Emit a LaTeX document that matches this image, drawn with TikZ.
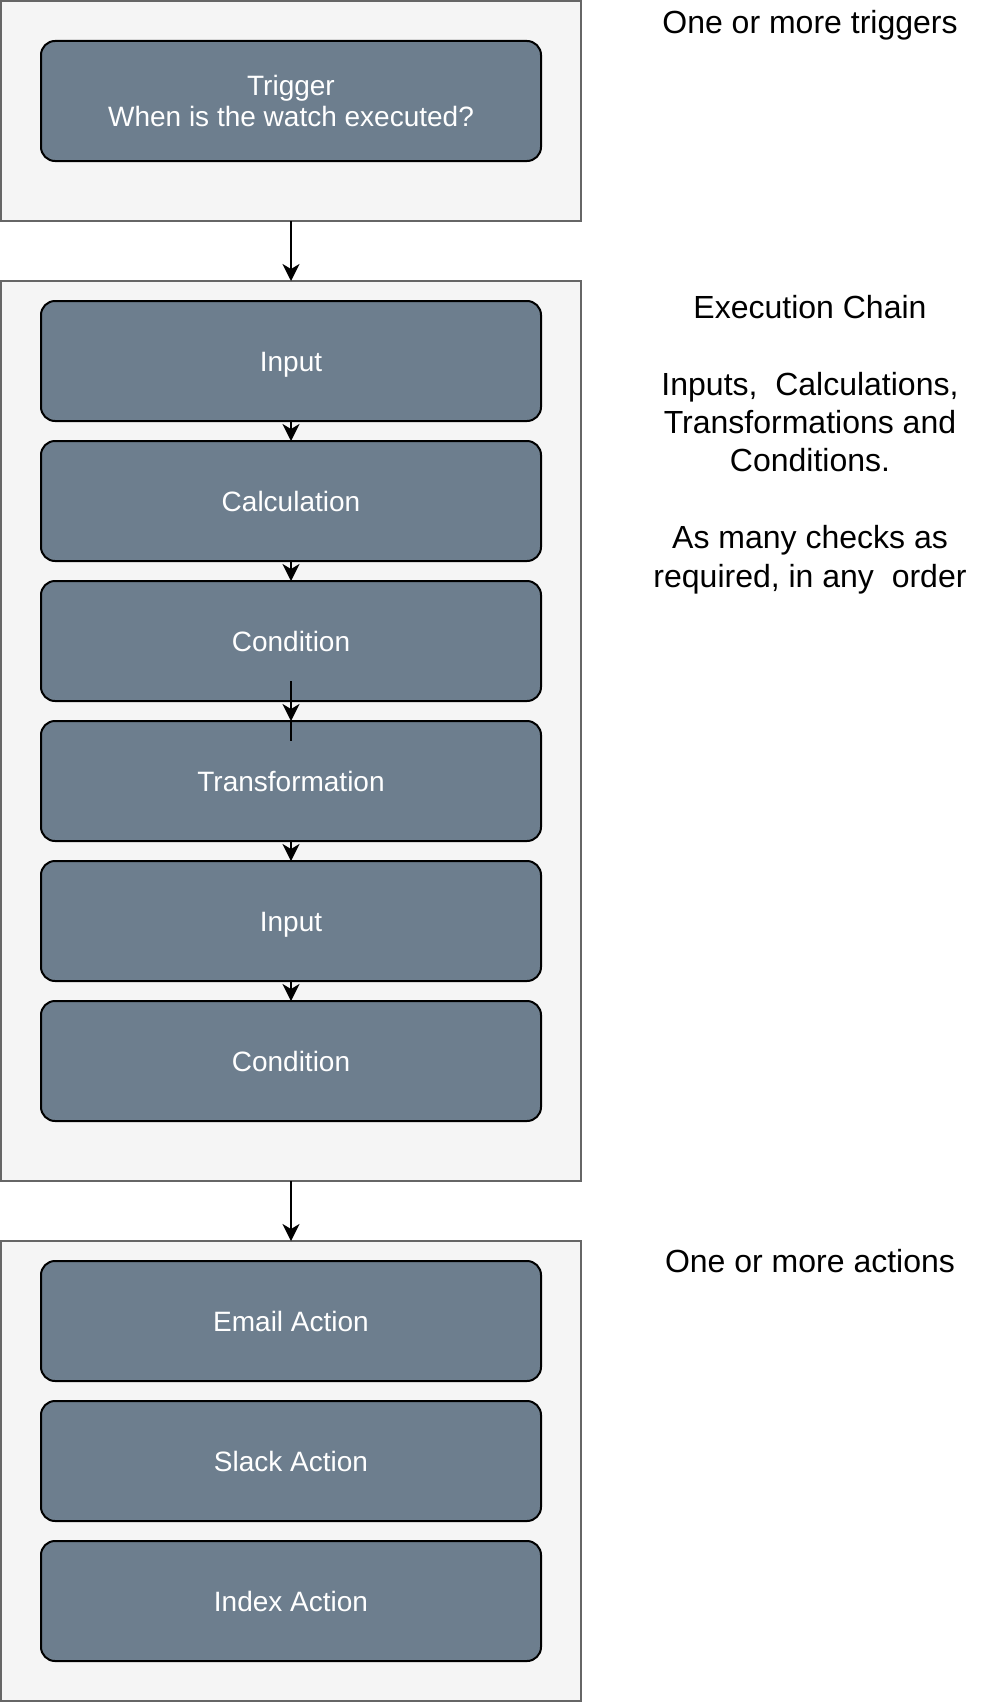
\documentclass[tikz,border=0pt]{standalone}
\usepackage{fontspec}
\setmainfont{Liberation Sans}
\usetikzlibrary{positioning,arrows.meta}

\begin{document}
\begin{tikzpicture}
          [x = 1pt, y = -1pt,
           group/.style     = {draw = groupline, fill = groupfill, line width = 2pt, minimum width = 580pt,
                               inner sep = 0pt, outer sep = 0pt},
           stagebase/.style = {draw = black, fill = stagecolor, line width = 2pt, rounded corners = 14pt,
                               minimum width = 500pt, minimum height = 120pt, inner sep = 0pt, outer sep = 0pt,
                               text = white, align = center, font = \fontsize{28}{30.5}\selectfont},
           stage/.style     = {stagebase, text height = 21pt, text depth = 0pt},
           note/.style      = {align = center, inner sep = 0pt, font = \fontsize{32}{38.4}\selectfont},
           link/.style      = {line width = 2pt, -{Stealth[length = 17pt, width = 17pt, inset = 5pt]}}]

% Define box colors
\definecolor{groupfill}{HTML}{F5F5F5}
\definecolor{groupline}{HTML}{666666}
\definecolor{stagecolor}{HTML}{6D7E8E}

\useasboundingbox (0,0) rectangle (982,1702);

% Trigger
  \node [group, minimum height = 220pt, anchor = north west] (triggers) at (1,1) {};
  \node [stagebase, below = 40pt of triggers.north] (trigger) {Trigger\\When is the watch executed?};

% Execution chain
  \node [group, minimum height = 900pt, below = 60pt of triggers] (chain) {};
  \node [stage, below = 20pt of chain.north] (input)     {Input};
  \node [stage, below = 20pt of input]       (calc)      {Calculation};
  \node [stage, below = 20pt of calc]        (cond)      {Condition};
  \node [stage, below = 20pt of cond]        (transform) {Transformation};
  \node [stage, below = 20pt of transform]   (input2)    {Input};
  \node [stage, below = 20pt of input2]      (cond2)     {Condition};

% Actions
  \node [group, minimum height = 460pt, below = 60pt of chain] (actions) {};
  \node [stage, below = 20pt of actions.north] (email) {Email Action};
  \node [stage, below = 20pt of email]         (slack) {Slack Action};
  \node [stage, below = 20pt of slack]         (index) {Index Action};

% Notes on the right
  \node [note, anchor = base]  (trignote)   at (810,33.5) {One or more triggers};
  \node [note, anchor = north] (chainnote)  at (810,295)  {Execution Chain\\[38.4pt]
                                                           Inputs,\ \ Calculations,\\
                                                           Transformations and\\
                                                           Conditions.\\[38.4pt]
                                                           As many checks as\\
                                                           required, in any\ \ order};
  \node [note, anchor = base]  (actionnote) at (810,1272)  {One or more actions};

% connecting the boxes
  \draw [link] (triggers)  -- (chain);
  \draw [link] (chain)     -- (actions);
  \draw [link] (input)     -- (calc);
  \draw [link] (calc)      -- (cond);
  \draw [link] (transform) -- (input2);
  \draw [link] (input2)    -- (cond2);

  \coordinate (condin)      at ([yshift = 20pt]cond.south);
  \coordinate (transformin) at ([yshift = -20pt]transform.north);
  \draw [link] (condin) -- (transform.north);
  \draw [line width = 2pt] (transform.north) -- (transformin);

\end{tikzpicture}
\end{document}
